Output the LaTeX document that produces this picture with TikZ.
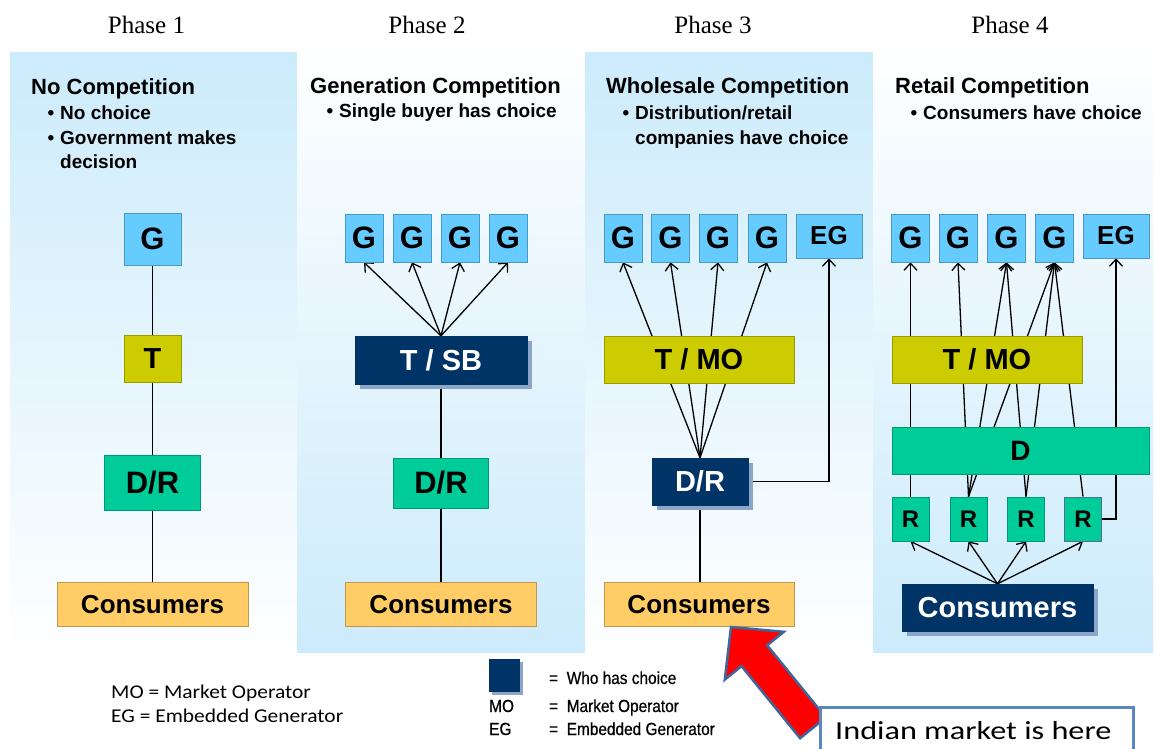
\documentclass[tikz,border=0pt]{standalone}
\usepackage{fontspec}
\setmainfont{Liberation Sans}
\newfontfamily\phasefont{Liberation Serif}
\newfontfamily\califont[FakeStretch=1.1]{Carlito}
\newfontfamily\notefont[FakeStretch=1.24]{Carlito}
\newfontfamily\narrowfont[FakeStretch=0.88,FakeBold=0.6]{Liberation Sans}
\usetikzlibrary{arrows.meta,shadows}
\pgfdeclarelayer{panels}
\pgfdeclarelayer{wires}
\pgfsetlayers{panels,wires,main}
\definecolor{gblue}{HTML}{66CCFF}
\definecolor{tyel}{HTML}{CCCC00}
\definecolor{dgreen}{HTML}{00CC99}
\definecolor{corange}{HTML}{FFCC66}
\definecolor{navy}{HTML}{003366}
\definecolor{shadowc}{HTML}{8DA5C8}
\definecolor{lblue}{HTML}{CCEBFB}
\definecolor{arrowedge}{HTML}{41659A}
\definecolor{noteedge}{HTML}{5B87C0}
\newcommand\bulletmark{\llap{\textbullet\hspace{6pt}}}
\begin{document}
\begin{tikzpicture}[x=1pt,y=-1pt,
  box/.style={rectangle, fill=#1, draw=#1!75!black, line width=0.7pt, inner sep=0pt},
  gb/.style={box=gblue, minimum width=38, minimum height=48, font=\fontsize{31}{32}\selectfont\bfseries},
  egb/.style={box=gblue, minimum width=66, minimum height=44, font=\fontsize{26}{27}\selectfont\bfseries},
  tb/.style={box=tyel, font=\fontsize{29}{30}\selectfont\bfseries},
  drb/.style={box=dgreen, font=\fontsize{31}{32}\selectfont\bfseries},
  rb/.style={box=dgreen, minimum width=37, minimum height=44, font=\fontsize{24}{25}\selectfont\bfseries},
  cb/.style={box=corange, minimum width=191, minimum height=44, font=\fontsize{26}{27}\selectfont\bfseries},
  navyb/.style={rectangle, fill=navy, draw=navy, text=white, inner sep=0pt,
    drop shadow={shadow xshift=5pt, shadow yshift=-5pt, fill=shadowc, opacity=1}},
  phase/.style={anchor=base, font=\phasefont\fontsize{25}{28}\selectfont},
  ttl/.style={anchor=base west, inner sep=0pt, font=\fontsize{22}{24}\selectfont\bfseries},
  bul/.style={anchor=base west, inner sep=0pt, font=\fontsize{19}{21}\selectfont\bfseries},
  wire/.style={line width=1.3pt},
  arr/.style={line width=1.3pt, -{Straight Barb[length=7pt,width=13pt,line width=1.3pt]}},
  leg/.style={anchor=base west, inner sep=0pt, font=\califont\fontsize{19.5}{22}\selectfont},
  nleg/.style={anchor=base west, inner sep=0pt, font=\narrowfont\fontsize{17.5}{19}\selectfont}
]
\useasboundingbox (0,0) rectangle (1156,749);
\begin{pgfonlayer}{panels}
  \fill[white] (0,0) rectangle (1156,749);
  \shade[top color=lblue, bottom color=white!97!lblue] (10,53) rectangle (297,640);
  \shade[top color=white!97!lblue, middle color=white!55!lblue, bottom color=lblue] (297,53) rectangle (585,652);
  \shade[top color=lblue, bottom color=white!97!lblue] (585,53) rectangle (873,640);
  \shade[top color=white!97!lblue, middle color=white!55!lblue, bottom color=lblue] (873,53) rectangle (1153,652);
\end{pgfonlayer}

% phase labels
\node[phase] (ph1) at (146.5,34) {Phase 1};
\node[phase] (ph2) at (427,34) {Phase 2};
\node[phase] (ph3) at (713,34) {Phase 3};
\node[phase] (ph4) at (1010,34) {Phase 4};

% titles and bullets
\node[ttl] (ti1) at (31,95) {No Competition};
\node[bul] (b11) at (60,120) {\bulletmark No choice};
\node[bul] (b12) at (60,144) {\bulletmark Government makes};
\node[bul] (b13) at (60,168) {decision};

\node[ttl] (ti2) at (310,94) {Generation Competition};
\node[bul] (b21) at (339,118) {\bulletmark Single buyer has choice};

\node[ttl] (ti3) at (606,94) {Wholesale Competition};
\node[bul] (b31) at (635,120) {\bulletmark Distribution/retail};
\node[bul] (b32) at (635,144) {companies have choice};

\node[ttl] (ti4) at (895,94) {Retail Competition};
\node[bul] (b41) at (923,120) {\bulletmark Consumers have choice};

% ---------- Phase 1
\node[box=gblue, minimum width=57, minimum height=52, font=\fontsize{31}{32}\selectfont\bfseries] (g1) at (152.5,239) {G};
\node[tb, minimum width=57, minimum height=47] (t1) at (152.5,358.5) {T};
\node[drb, minimum width=96, minimum height=55] (dr1) at (152.5,482.5) {D/R};
\node[cb] (c1) at (152.5,604.5) {Consumers};
\begin{pgfonlayer}{wires}
  \draw[wire] (g1) -- (t1) -- (dr1) -- (c1);
\end{pgfonlayer}

% ---------- Phase 2
\node[gb] (g21) at (364,238) {G};
\node[gb] (g22) at (412,238) {G};
\node[gb] (g23) at (460,238) {G};
\node[gb] (g24) at (508,238) {G};
\node[navyb, minimum width=172, minimum height=48, font=\fontsize{29}{30}\selectfont\bfseries] (tsb) at (441,360) {T / SB};
\node[drb, minimum width=95, minimum height=50] (dr2) at (441,483) {D/R};
\node[cb] (c2) at (441,604.5) {Consumers};
\begin{pgfonlayer}{wires}
  \foreach \g in {g21,g22,g23,g24} \draw[arr] (tsb.north) -- (\g.south);
  \draw[wire] (tsb) -- (dr2) -- (c2);
\end{pgfonlayer}

% ---------- Phase 3
\node[gb] (g31) at (623,238) {G};
\node[gb] (g32) at (670.5,238) {G};
\node[gb] (g33) at (718,238) {G};
\node[gb] (g34) at (767,238) {G};
\node[egb] (eg3) at (829,236) {EG};
\node[tb, minimum width=190, minimum height=47] (tmo3) at (699,359.5) {T / MO};
\node[navyb, minimum width=96, minimum height=47, font=\fontsize{29}{30}\selectfont\bfseries] (dr3) at (700,481.5) {D/R};
\node[cb, minimum width=190] (c3) at (699,604.5) {Consumers};
\begin{pgfonlayer}{wires}
  \foreach \g in {g31,g32,g33,g34} \draw[arr] (dr3.north) -- (\g.south);
  \draw[arr] (dr3.east) -| (eg3.south);
  \draw[wire] (dr3) -- (dr3 |- c3.north);
\end{pgfonlayer}

% ---------- Phase 4
\node[gb] (g41) at (910.5,238) {G};
\node[gb] (g42) at (958,238) {G};
\node[gb] (g43) at (1006.5,238) {G};
\node[gb] (g44) at (1054.5,238) {G};
\node[egb] (eg4) at (1116,236) {EG};
\node[tb, minimum width=190, minimum height=47] (tmo4) at (987,359.5) {T / MO};
\node[drb, minimum width=257, minimum height=47, font=\fontsize{28}{29}\selectfont\bfseries] (d4) at (1020.5,450.5) {D};
\node[rb] (r41) at (910.5,519) {R};
\node[rb] (r42) at (968.5,519) {R};
\node[rb] (r43) at (1026,519) {R};
\node[rb, draw=navy!70] (r44) at (1083,519) {R};
\node[navyb, minimum width=191, minimum height=47, font=\fontsize{29}{30}\selectfont\bfseries] (c4) at (997.5,607.5) {Consumers};
\begin{pgfonlayer}{wires}
  \draw[arr] (r41.north) -- (g41.south);
  \draw[arr] (r42.north) -- (g42.south);
  \draw[arr] (r42.north) -- (g43.south);
  \draw[arr] (r42.north) -- (g44.south);
  \draw[arr] (r43.north) -- (g43.south);
  \draw[arr] (r43.north) -- (g44.south);
  \draw[arr] (r44.north) -- (g44.south);
  \draw[arr] (r44.east) -| (eg4.south);
  \foreach \r in {r41,r42,r43,r44} \draw[arr] (c4.north) -- (\r.south);
\end{pgfonlayer}

% ---------- Legends
\node[leg] (lg1) at (111,698) {MO = Market Operator};
\node[leg] (lg2) at (111,722) {EG = Embedded Generator};

\node[rectangle, fill=navy, inner sep=0pt, minimum width=31, minimum height=33,
  drop shadow={shadow xshift=3pt, shadow yshift=-3pt, fill=shadowc, opacity=1}] (lsq) at (504.5,675.5) {};
\node[nleg] (lw) at (549,684) {=\ \ Who has choice};
\node[nleg] (lmo) at (489,712) {MO};
\node[nleg] (lmot) at (549,712) {=\ \ Market Operator};
\node[nleg] (leg) at (489,735) {EG};
\node[nleg] (legt) at (549,735) {=\ \ Embedded Generator};

% ---------- Red arrow and note
\filldraw[fill=red, draw=arrowedge, line width=2.5pt, line join=miter]
  (731,627) -- (783.8,631.8) -- (767.1,645.3) -- (825.7,717.4) -- (800.1,738.2)
  -- (741.5,666.1) -- (724.8,679.6) -- cycle;
\node[rectangle, draw=noteedge, line width=2.5pt, fill=white, anchor=north west,
  minimum width=313, minimum height=60, inner sep=0pt] (note) at (819,706) {};
\node[anchor=base west, inner sep=0pt, font=\notefont\fontsize{26}{28}\selectfont] (notet) at (835,739) {Indian market is here};
\end{tikzpicture}
\end{document}
